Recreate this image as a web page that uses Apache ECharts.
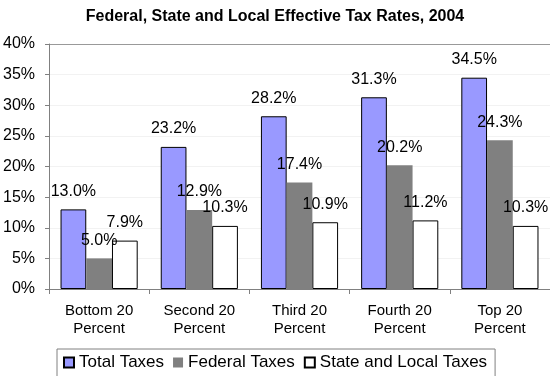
<!DOCTYPE html>
<html>
<head>
<meta charset="utf-8">
<script src="https://cdn.jsdelivr.net/npm/echarts@6/dist/echarts.min.js"></script>
<style>
  html, body { margin: 0; padding: 0; background: #fff; }
  #chart { width: 550px; height: 376px; }
</style>
</head>
<body>
<div id="chart"></div>
<script>
// 数据
const categories = ['Bottom 20\nPercent', 'Second 20\nPercent', 'Third 20\nPercent', 'Fourth 20\nPercent', 'Top 20\nPercent'];
const totalTaxes = [13.0, 23.2, 28.2, 31.3, 34.5];
const federalTaxes = [5.0, 12.9, 17.4, 20.2, 24.3];
const stateLocalTaxes = [7.9, 10.3, 10.9, 11.2, 10.3];

const font = 'Liberation Sans, Arial, sans-serif';

const chart = echarts.init(document.getElementById('chart'));

const label = {
    show: true, position: 'top', distance: 10,
    fontFamily: font, fontSize: 16, color: '#000',
    formatter: p => p.value.toFixed(1) + '%'
};

const option = {
    animation: false,
    title: {
        text: 'Federal, State and Local Effective Tax Rates, 2004',
        left: 'center', top: 4,
        textStyle: { fontFamily: font, fontSize: 16, fontWeight: 'bold', color: '#000' }
    },
    legend: {
        left: 57, top: 349,
        padding: [5, 8, 8, 6],
        borderColor: '#808080', borderWidth: 1,
        itemWidth: 10, itemHeight: 10, itemGap: 9,
        icon: 'rect',
        textStyle: { fontFamily: font, fontSize: 17, color: '#000' },
        data: ['Total Taxes', 'Federal Taxes', 'State and Local Taxes']
    },
    grid: { left: 48, right: 0, top: 44, bottom: 87 },
    xAxis: {
        type: 'category', data: categories,
        axisLine: { lineStyle: { color: '#808080' } },
        axisTick: { show: true, length: 5, lineStyle: { color: '#808080' } },
        axisLabel: { fontFamily: font, fontSize: 15, color: '#000', lineHeight: 18, margin: 13 }
    },
    yAxis: {
        type: 'value', min: 0, max: 40, interval: 5,
        axisLine: { show: true, lineStyle: { color: '#808080' } },
        axisTick: { show: true, length: 4, lineStyle: { color: '#808080' } },
        axisLabel: { fontFamily: font, fontSize: 16, color: '#000', margin: 14, formatter: '{value}%' },
        splitLine: { show: true, lineStyle: { color: ['#f2f2f2', '#f2f2f2', '#f2f2f2', '#f2f2f2', '#f2f2f2', '#f2f2f2', '#f2f2f2', '#f2f2f2', '#999999'] } }
    },
    series: [
        {
            name: 'Total Taxes', type: 'bar', data: totalTaxes,
            barGap: '0%', barCategoryGap: '23%',
            itemStyle: { color: '#9999ff', borderColor: '#000', borderWidth: 1 },
            label: label
        },
        {
            name: 'Federal Taxes', type: 'bar', data: federalTaxes,
            itemStyle: { color: '#808080' },
            label: label
        },
        {
            name: 'State and Local Taxes', type: 'bar', data: stateLocalTaxes,
            itemStyle: { color: '#ffffff', borderColor: '#000', borderWidth: 1 },
            label: label
        }
    ]
};

chart.setOption(option);
</script>
</body>
</html>
